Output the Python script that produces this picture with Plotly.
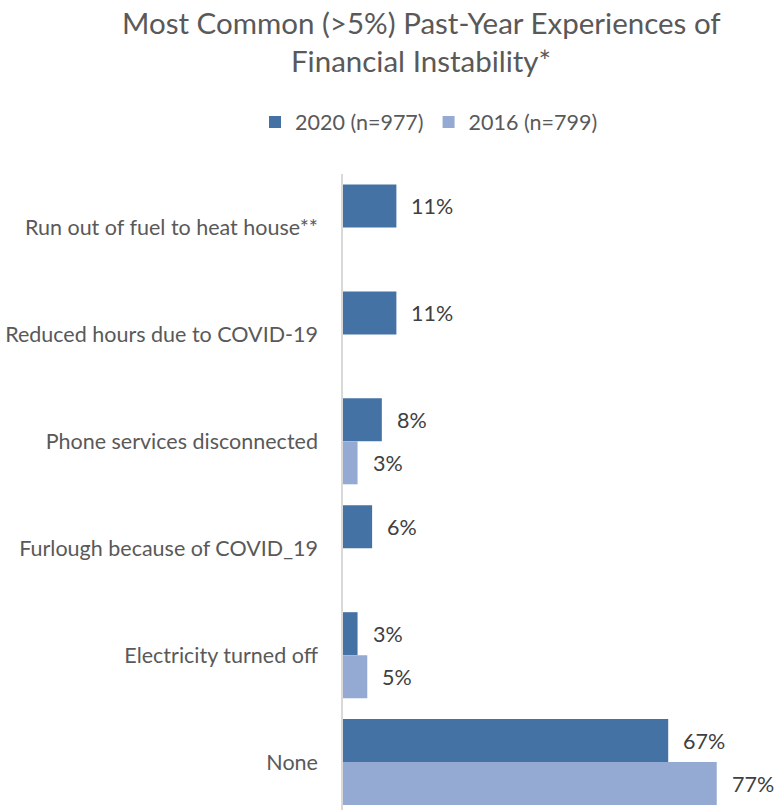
import plotly.graph_objects as go

# Past-year financial instability experiences (percent of respondents)
categories = [
    "Run out of fuel to heat house**",
    "Reduced hours due to COVID-19",
    "Phone services disconnected",
    "Furlough because of COVID_19",
    "Electricity turned off",
    "None",
]
values_2020 = [11, 11, 8, 6, 3, 67]
values_2016 = [None, None, 3, None, 5, 77]
series_names = ["2020 (n=977)", "2016 (n=799)"]
title_lines = ["Most Common (>5%) Past-Year Experiences of", "Financial Instability*"]

color_2020 = "#4472A5"
color_2016 = "#95AAD2"
font_family = "Lato, 'Open Sans', sans-serif"
W, H = 775, 810
L, T = 343, 173.5

fig = go.Figure()
fig.add_trace(go.Bar(
    y=categories, x=values_2020, orientation="h", name=series_names[0],
    marker=dict(color=color_2020, line=dict(width=0)),
    hoverinfo="x+y",
))
fig.add_trace(go.Bar(
    y=categories, x=values_2016, orientation="h", name=series_names[1],
    marker=dict(color=color_2016, line=dict(width=0)),
    hoverinfo="x+y",
))

# Value labels just past the end of each bar
bar_offset = 21.5
for vals, shift in ((values_2020, bar_offset), (values_2016, -bar_offset)):
    for cat, v in zip(categories, vals):
        if v is None:
            continue
        fig.add_annotation(
            x=v, y=cat, text=f"{v}%", showarrow=False,
            xanchor="left", yanchor="middle", xshift=14, yshift=shift,
            borderpad=0,
            font=dict(family=font_family, size=21.5, color="#404040"),
        )

# Two-line chart title
for line, yc in zip(title_lines, (22, 60)):
    fig.add_annotation(
        text=line, xref="paper", yref="paper",
        x=(421 - L) / (W - L), y=1 + (T - yc) / (H - T),
        xanchor="center", yanchor="middle", showarrow=False,
        font=dict(family=font_family, size=29.5, color="#595959"),
    )

fig.update_layout(
    width=W, height=H,
    margin=dict(l=L, r=0, t=T, b=0, autoexpand=False),
    paper_bgcolor="white", plot_bgcolor="white",
    barmode="group", bargap=0.196, bargroupgap=0,
    legend=dict(
        orientation="h", xref="container", yref="container",
        x=429 / W, xanchor="center", y=1 - 122 / H, yanchor="middle",
        font=dict(family=font_family, size=21.5, color="#595959"),
        traceorder="normal",
    ),
    xaxis=dict(
        range=[0, 89], showgrid=False, zeroline=False, automargin=False,
        showticklabels=False, showline=False, fixedrange=True,
    ),
    yaxis=dict(
        range=[5.448, -0.5], showline=True, linecolor="#D9D9D9", linewidth=1.5,
        showgrid=False, zeroline=False, ticks="", ticklabelstandoff=19,
        automargin=False,
        tickfont=dict(family=font_family, size=21.5, color="#595959"),
        fixedrange=True,
    ),
)

fig.write_html("out.html")
